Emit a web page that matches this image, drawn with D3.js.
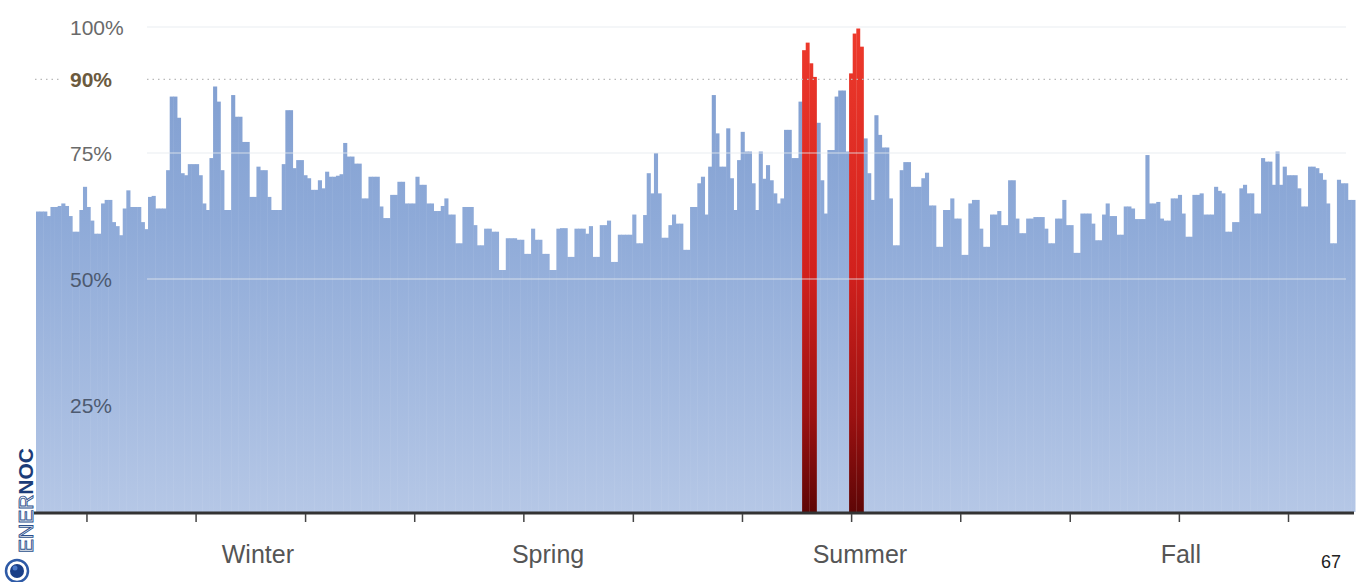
<!DOCTYPE html>
<html><head><meta charset="utf-8">
<script src="https://cdn.jsdelivr.net/npm/d3@7"></script>
<style>html,body{margin:0;padding:0;background:#fff;} svg{display:block;font-family:"Liberation Sans",Arial,sans-serif;}</style>
</head><body><svg id="chart" width="1357" height="582"></svg>
<script>
// Daily system load as % of annual peak (one value per day, mid-Dec to mid-Dec)
const loadPct = [
63.4,63.4,63.4,62.5,64.3,64.3,64.5,65,64.5,62.5,
59.4,59.4,63.7,68.3,64.3,61.6,59,59,65,65.7,
65.7,61.3,60.5,58.7,64,67.6,64.3,64.3,64.3,61.3,
59.9,66.3,66.5,64,64,64,71.6,86.2,86.2,82,
71,70.6,72.8,72.8,72.8,70.6,65,63.7,74,88.2,
85.2,71.6,63.7,63.7,86.5,82.2,82.2,77.2,77.2,66.3,
66.3,72.3,71.6,71.6,66.3,63.7,63.7,63.7,72.8,83.5,
83.5,72,73.6,73.6,70.6,70,67.7,67.7,69.6,68,
71.3,70.3,70.3,70.5,70.8,77,74.3,74.3,72.9,72.9,
66,66,70.3,70.3,70.3,64.4,62.1,62.1,66.7,66.7,
69.3,69.3,65,65,65,70.3,68.7,68.7,65,65,
63.5,63.5,64.5,66,62.8,62.8,57.1,57.1,64.3,64.3,
64.3,60.7,56.7,56.7,60,60,59.4,59.4,51.8,51.8,
58.1,58.1,58.1,57.8,57.8,55,55,60,57.8,57.8,
55,55,51.8,51.8,60,60.1,60.1,54.4,54.4,60,
60,60,59,60.5,54.4,54.4,60.7,60.7,61.6,53.4,
53.4,58.8,58.8,58.8,58.8,62.8,57.1,57.1,62.7,71,
67,75,67,58.2,58.2,60.7,62.8,61,61,55.8,
55.8,64.3,64.3,69,70.3,62.8,72.3,86.5,78.9,72.3,
72.3,79.9,70,63.7,73.6,79.2,75.3,75.3,69,63.7,
75.3,69.9,72.6,69.6,67,65,66,79.6,79.6,74,
74,85.2,95.4,96.9,92.8,90.1,81,69.6,63,75.6,
75.6,86.2,87.4,87.4,75.3,90.8,98.7,99.7,96.1,77.9,
71,65.7,82.5,78.6,76.1,76.1,66,56.7,56.7,71.6,
73.2,73.2,68.3,68.3,68.3,70,71.1,64.6,64.6,56.4,
56.4,63.7,63.7,66,62,62,54.8,54.8,65,65.7,
65.7,60,56.4,56.4,62.8,62.8,63.5,60.7,60.7,69.6,
69.6,62,59.1,59.1,62,62,62.3,62.3,62.3,60,
57.1,57.1,62,62,65.7,60.7,60.7,55.2,55.2,63,
63,63,61,57.7,57.7,62.8,65,62.5,62.5,58.8,
58.8,64.4,64.4,64,61.9,61.9,61.9,74.6,65,65,
65.3,62,61.6,61.6,66,66,66.7,63,58.4,58.4,
66.7,66.7,67,62.8,62.8,62.8,68.3,67.5,67,59.4,
59.4,61.3,61.3,68,68.7,67,67,63,63,74,
73.3,73.3,68.7,75.3,68.7,72.3,70.6,70.6,70.6,68,
64.4,64.4,72.3,72.3,72,71,69.7,65,57.1,57.1,
69.7,69,69,65.7,65.7
];
// Days that were above the 90% threshold (peak days)
const peakDays = [212,213,214,215,225,226,227,228];
const yTickValues = [100, 90, 75, 50, 25];
const yTickLabels = ["100%", "90%", "75%", "50%", "25%"];
const thresholdValue = 90;
const monthTickDays = [14.1,44.3,74.6,104.8,135.0,165.3,195.5,225.7,255.9,286.2,316.4,346.6];
const seasonLabels = ["Winter", "Spring", "Summer", "Fall"];
const seasonDays = [61.4, 141.7, 228, 316.8];
const pageNumber = "67";

const svg = d3.select("#chart");
const x = d3.scaleLinear().domain([0, loadPct.length]).range([36, 1355]);
const y = d3.scaleLinear().domain([3.8, 100]).range([512, 27]);
const base = y.range()[0];

const defs = svg.append("defs");
const bg = defs.append("linearGradient").attr("id","blueGrad")
  .attr("gradientUnits","userSpaceOnUse").attr("x1",0).attr("x2",0)
  .attr("y1", y(100)).attr("y2", base);
[[0,"#7e9ccf"],[0.4,"#8eaad8"],[1,"#b5c7e6"]].forEach(([o,c]) => bg.append("stop").attr("offset",o).attr("stop-color",c));
const rg = defs.append("linearGradient").attr("id","redGrad")
  .attr("gradientUnits","userSpaceOnUse").attr("x1",0).attr("x2",0)
  .attr("y1", y(100)).attr("y2", base);
[[0,"#ee3a2c"],[0.5,"#d2211d"],[0.8,"#9c1111"],[1,"#5e0606"]].forEach(([o,c]) => rg.append("stop").attr("offset",o).attr("stop-color",c));

const peakSet = new Set(peakDays);
const data = loadPct.map((v,i) => ({i, v, peak: peakSet.has(i)}));
const bw = x(1) - x(0);

// blue bars first, red on top
svg.append("g").selectAll("rect").data(data.filter(d => !d.peak)).join("rect")
  .attr("x", d => x(d.i)).attr("width", bw + 0.5)
  .attr("y", d => y(d.v)).attr("height", d => base - y(d.v))
  .attr("fill", "url(#blueGrad)");
svg.append("g").selectAll("rect").data(data.filter(d => d.peak)).join("rect")
  .attr("x", d => x(d.i)).attr("width", bw + 0.3)
  .attr("y", d => y(d.v)).attr("height", d => base - y(d.v))
  .attr("fill", "url(#redGrad)");

// gridlines (faint, drawn over bars)
const gx0 = 147, gx1 = 1346;
svg.append("g").selectAll("line").data([100, 75, 50]).join("line")
  .attr("x1", gx0).attr("x2", gx1)
  .attr("y1", d => y(d)).attr("y2", d => y(d))
  .attr("stroke", "#e6e9ee").attr("stroke-opacity", 0.55).attr("stroke-width", 1.5);
// 90% dotted threshold line
[[35, 62], [147, 1350]].forEach(([a,b]) => {
  svg.append("line").attr("x1", a).attr("x2", b)
    .attr("y1", y(thresholdValue) + 2).attr("y2", y(thresholdValue) + 2)
    .attr("stroke", "#b9b9b9").attr("stroke-width", 1.3).attr("stroke-dasharray", "1.5,4");
});

// y labels
const yLab = svg.append("g");
yTickValues.forEach((v, k) => {
  const isThr = v === thresholdValue;
  const onBar = v <= 50;
  yLab.append("text").attr("x", 70).attr("y", y(v) + (isThr ? 2 : 0))
    .attr("dominant-baseline", "central")
    .attr("font-size", 21)
    .attr("font-weight", isThr ? "bold" : "normal")
    .attr("fill", isThr ? "#6b5a3e" : (onBar ? "#4d5a70" : "#6a6a6a"))
    .text(yTickLabels[k]);
});

// x axis
svg.append("line").attr("x1", 34).attr("x2", 1354).attr("y1", base + 1).attr("y2", base + 1)
  .attr("stroke", "#333").attr("stroke-width", 3);
svg.append("g").selectAll("line").data(monthTickDays).join("line")
  .attr("x1", d => x(d)).attr("x2", d => x(d))
  .attr("y1", base + 2).attr("y2", base + 10)
  .attr("stroke", "#444").attr("stroke-width", 1.5);
svg.append("g").selectAll("text").data(seasonLabels).join("text")
  .attr("x", (d,k) => x(seasonDays[k])).attr("y", 563)
  .attr("text-anchor", "middle").attr("font-size", 25).attr("fill", "#555")
  .text(d => d);

// page number
svg.append("text").attr("x", 1331).attr("y", 568).attr("text-anchor", "middle")
  .attr("font-size", 18).attr("fill", "#222").text(pageNumber);

// ENERNOC logo
const logo = svg.append("g");
const lt = logo.append("text").attr("transform", "translate(33,553) rotate(-90)")
  .attr("font-size", 21);
lt.append("tspan").attr("fill", "#ffffff").attr("stroke", "#2b4f8c").attr("stroke-width", 0.9).text("ENER");
lt.append("tspan").attr("fill", "#1b3c78").attr("font-weight", "bold").text("NOC");
logo.append("circle").attr("cx", 17).attr("cy", 571).attr("r", 11).attr("fill", "none").attr("stroke", "#2e5aa6").attr("stroke-width", 2.5);
logo.append("circle").attr("cx", 17).attr("cy", 571).attr("r", 7).attr("fill", "#1a3f88");
logo.append("circle").attr("cx", 15).attr("cy", 568).attr("r", 2.5).attr("fill", "#4a78c8");
</script></body></html>
